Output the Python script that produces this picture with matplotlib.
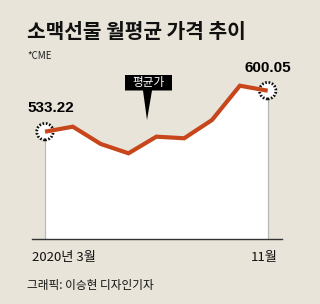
import matplotlib
matplotlib.use("Agg")
import matplotlib.pyplot as plt
from matplotlib.patches import Polygon

plt.rcParams['font.family'] = ['Noto Sans CJK KR', 'DejaVu Sans']

months = ['3월', '4월', '5월', '6월', '7월', '8월', '9월', '10월', '11월']
prices = [533.22, 541.4, 513.2, 498.0, 525.1, 522.5, 552.3, 608.2, 600.05]
first_label = '2020년 3월'
last_label = '11월'
title = '소맥선물 월평균 가격 추이'
source = '*CME'
credit = '그래픽: 이승현 디자인기자'
callout = '평균가'

BG = '#e8e4d9'
RED = '#c8461b'

W, H = 320, 304
fig = plt.figure(figsize=(W / 100, H / 100), dpi=100, facecolor=BG)

def fx(px):
    return px / W

def fy(py):
    return 1 - py / H

ax = fig.add_axes([fx(32), fy(239.3), fx(282) - fx(32), fy(60) - fy(239.3)])
ax.set_facecolor('none')
x = list(range(len(prices)))
ax.set_xlim(-0.467, 8.514)
ymin, ymax = 357.8, 650.1
ax.set_ylim(ymin, ymax)
ax.axis('off')

ax.fill_between(x, prices, ymin, color='white', zorder=1, linewidth=0)
ax.vlines([x[0], x[-1]], ymin, [prices[0], prices[-1]], color='#b8b8b8', lw=0.9, zorder=2)
ax.axhline(ymin, color='#333333', lw=1.0, zorder=3, clip_on=False)
ax.scatter([x[0], x[-1]], [prices[0], prices[-1]], s=140, facecolors='white',
           edgecolors='#111111', linewidths=2.0, linestyles=(0, (0.6, 0.6)), zorder=4)
ax.plot(x, prices, color=RED, lw=3.0, solid_joinstyle='miter', solid_capstyle='butt', zorder=5)

num_font = ['Liberation Sans', 'DejaVu Sans']
ax.annotate(f'{prices[0]:.2f}', (x[0], prices[0]), xytext=(51, H - 108), textcoords='figure pixels',
            ha='center', va='center', fontsize=11, fontweight='bold', family=num_font)
ax.annotate(f'{prices[-1]:.2f}', (x[-1], prices[-1]), xytext=(268, H - 68), textcoords='figure pixels',
            ha='center', va='center', fontsize=11, fontweight='bold', family=num_font)

fig.text(fx(27), fy(31), title, fontsize=14.6, fontweight='bold', ha='left', va='center', color='#111111')
fig.text(fx(27), fy(56), source, fontsize=7, ha='left', va='center', color='#222222')
fig.text(fx(32), fy(258), first_label, fontsize=9.5, ha='left', va='center', color='#111111')
fig.text(fx(278), fy(258), last_label, fontsize=9.5, ha='right', va='center', color='#111111')
fig.text(fx(27), fy(285), credit, fontsize=8.4, ha='left', va='center', color='#111111')

# callout box
box = Polygon([[fx(125), fy(75)], [fx(172), fy(75)], [fx(172), fy(90.5)], [fx(152), fy(90.5)],
               [fx(147), fy(120)], [fx(143), fy(90.5)], [fx(125), fy(90.5)]],
              closed=True, transform=fig.transFigure, facecolor='black', edgecolor='none')
fig.patches.append(box)
fig.text(fx(148.5), fy(82.5), callout, fontsize=8.4, color='white', ha='center', va='center')

fig.savefig('out.png', dpi=100, facecolor=BG)
